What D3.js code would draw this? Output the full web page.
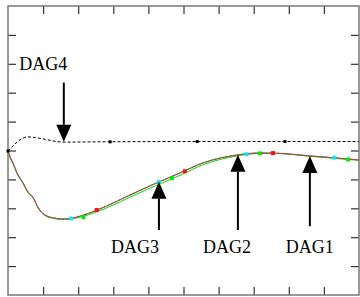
<!DOCTYPE html>
<html>
<head>
<meta charset="utf-8">
<script src="https://cdnjs.cloudflare.com/ajax/libs/d3/7.8.5/d3.min.js"></script>
<style>
  body { margin: 0; background: #fff; overflow: hidden; }
  svg { display: block; }
</style>
</head>
<body>
<div id="chart"></div>
<script>
// x in s, y in arbitrary units (10 divisions each way)
const timeA = [0, 0.06, 0.14, 0.26, 0.43, 0.57, 0.71, 0.85, 1.05, 1.34, 1.57, 1.82, 2.05, 2.54, 2.99, 3.48, 4.30, 4.90, 5.56, 6.52, 7.18, 7.55, 8.60, 9.37, 10];
const redVals  = [4.98, 4.78, 4.57, 4.22, 3.88, 3.56, 3.39, 3.04, 2.77, 2.66, 2.63, 2.66, 2.73, 2.94, 3.18, 3.46, 3.91, 4.22, 4.57, 4.84, 4.91, 4.91, 4.81, 4.74, 4.67];
const cyanVals = [4.98, 4.76, 4.58, 4.20, 3.86, 3.57, 3.37, 3.05, 2.76, 2.65, 2.62, 2.65, 2.72, 2.94, 3.18, 3.47, 3.92, 4.23, 4.58, 4.85, 4.92, 4.91, 4.82, 4.74, 4.68];
const greenVals = [4.98, 4.74, 4.55, 4.19, 3.85, 3.54, 3.37, 3.02, 2.75, 2.64, 2.61, 2.63, 2.69, 2.88, 3.11, 3.39, 3.83, 4.14, 4.51, 4.81, 4.90, 4.90, 4.80, 4.72, 4.66];

const timeB = [0, 0.57, 0.91, 1.57, 2.62, 5.47, 10];
const dag4Vals = [4.98, 5.47, 5.42, 5.29, 5.30, 5.31, 5.31];

// markers every 2.5 s, staggered per series
const cyanMarks = [[1.80, 2.65], [4.30, 3.91], [6.80, 4.87], [9.30, 4.75]];
const greenMarks = [[2.15, 2.69], [4.67, 4.04], [7.18, 4.90], [9.69, 4.69]];
const redMarks = [[2.53, 2.94], [5.04, 4.28], [7.55, 4.91]];
const dag4Marks = [[0, 4.98], [2.91, 5.30], [5.39, 5.31], [7.89, 5.31]];

// arrows: label, x, y of tip, y of tail, label position
const arrows = [
  { name: 'DAG4', x: 1.59, tip: 5.30, tail: 7.35, lx: 0.32, ly: 7.78 },
  { name: 'DAG3', x: 4.30, tip: 3.92, tail: 2.25, lx: 3.62, ly: 1.45 },
  { name: 'DAG2', x: 6.55, tip: 4.85, tail: 2.25, lx: 6.24, ly: 1.45 },
  { name: 'DAG1', x: 8.60, tip: 4.81, tail: 2.38, lx: 8.60, ly: 1.45 }
];

const xTickLabels = ['0', '2', '4', '6', '8', '10'];

const width = 360, height = 297;
const padLeft = 8, padRight = 359, padTop = 6, padBottom = 295;

const x = d3.scaleLinear().domain([0, 10]).range([padLeft, padRight]);
const y = d3.scaleLinear().domain([0, 10]).range([padBottom, padTop]);

const svg = d3.select('#chart').append('svg')
  .attr('width', width)
  .attr('height', height);

// ticks on all four sides, pointing inwards
const tickLen = 8;
const ticks = d3.range(1, 10);
svg.append('g').attr('transform', 'translate(0,' + padTop + ')')
  .call(d3.axisTop(x).tickValues(ticks).tickSize(-tickLen).tickFormat(''));
svg.append('g').attr('transform', 'translate(0,' + padBottom + ')')
  .call(d3.axisBottom(x).tickValues(ticks).tickSize(-tickLen).tickFormat(''));
svg.append('g').attr('transform', 'translate(' + padLeft + ',0)')
  .call(d3.axisLeft(y).tickValues(ticks).tickSize(-tickLen).tickFormat(''));
svg.append('g').attr('transform', 'translate(' + padRight + ',0)')
  .call(d3.axisRight(y).tickValues(ticks).tickSize(-tickLen).tickFormat(''));
svg.selectAll('.domain').remove();
svg.selectAll('.tick line').attr('stroke', '#333').attr('stroke-width', 1.2);

// bottom tick labels (mostly cut off by the window, as in the original)
svg.append('g').selectAll('text')
  .data(xTickLabels)
  .enter()
  .append('text')
  .text(d => d + '.0')
  .attr('x', (d, i) => x(i * 2))
  .attr('y', padBottom + 9)
  .attr('text-anchor', 'middle')
  .attr('font-family', 'Liberation Serif')
  .attr('font-size', 10)
  .attr('fill', '#888');

// frame
svg.append('rect')
  .attr('x', padLeft).attr('y', padTop)
  .attr('width', padRight - padLeft).attr('height', padBottom - padTop)
  .attr('fill', 'none')
  .attr('stroke', '#777')
  .attr('stroke-width', 1.5);

const line = d3.line().x(d => x(d[0])).y(d => y(d[1])).curve(d3.curveMonotoneX);

function series(times, vals, color, dash) {
  svg.append('path')
    .datum(times.map((t, i) => [t, vals[i]]))
    .attr('d', line)
    .attr('fill', 'none')
    .attr('stroke', color)
    .attr('stroke-width', 1)
    .attr('stroke-dasharray', dash || null);
}

function marks(data, color, size) {
  svg.append('g').selectAll('rect')
    .data(data)
    .enter()
    .append('rect')
    .attr('x', d => x(d[0]) - size / 2)
    .attr('y', d => y(d[1]) - size / 2)
    .attr('width', size)
    .attr('height', size)
    .attr('fill', color);
}

series(timeA, greenVals, '#00e000');
series(timeA, cyanVals, '#00e0e0');
series(timeA, redVals, '#8a5a3a');
series(timeA, redVals, '#ff2020', '2,2');
series(timeB, dag4Vals, '#000', '3,2');

marks(cyanMarks, '#20e0f0', 4);
marks(greenMarks, '#10e010', 4);
marks(redMarks, '#ff1010', 4);
marks(dag4Marks, '#000', 3);

// arrows and labels
const arrowW = 15, arrowH = 17;
arrows.forEach(a => {
  const ax = x(a.x), tipY = y(a.tip), tailY = y(a.tail);
  const dir = tailY < tipY ? 1 : -1; // 1: pointing down
  svg.append('line')
    .attr('x1', ax).attr('x2', ax)
    .attr('y1', tailY).attr('y2', tipY - dir * arrowH)
    .attr('stroke', '#000')
    .attr('stroke-width', 2);
  svg.append('path')
    .attr('d', 'M' + ax + ',' + tipY +
      'L' + (ax - arrowW / 2) + ',' + (tipY - dir * arrowH) +
      'L' + (ax + arrowW / 2) + ',' + (tipY - dir * arrowH) + 'Z')
    .attr('fill', '#000');
  svg.append('text')
    .text(a.name)
    .attr('x', x(a.lx))
    .attr('y', y(a.ly))
    .attr('text-anchor', a.name === 'DAG4' ? 'start' : 'middle')
    .attr('font-family', 'Liberation Serif')
    .attr('font-size', 18)
    .attr('fill', '#000');
});
</script>
</body>
</html>
